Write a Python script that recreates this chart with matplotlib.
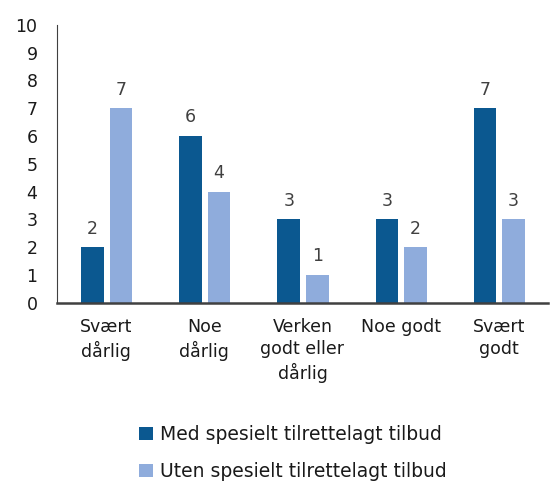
import numpy as np
import matplotlib.pyplot as plt

categories = ['Svært\ndårlig', 'Noe\ndårlig', 'Verken\ngodt eller\ndårlig', 'Noe godt', 'Svært\ngodt']
med = [2, 6, 3, 3, 7]
uten = [7, 4, 1, 2, 3]
series_names = ['Med spesielt tilrettelagt tilbud', 'Uten spesielt tilrettelagt tilbud']

dark = '#0B5890'
light = '#8FACDC'
txt = '#1a1a1a'

plt.rcParams['font.family'] = ['DejaVu Sans']

fig = plt.figure(figsize=(5.53, 4.87), dpi=100)
ax = fig.add_axes([0.103, 0.378, 0.888, 0.571])

x = np.arange(len(categories))
w = 0.23
b1 = ax.bar(x - 0.14, med, w, color=dark, label=series_names[0])
b2 = ax.bar(x + 0.15, uten, w, color=light, label=series_names[1])

for bars in (b1, b2):
    for r in bars:
        ax.text(r.get_x() + r.get_width() / 2, r.get_height() + 0.35, f'{int(r.get_height())}',
                ha='center', va='bottom', fontsize=12.5, color='#404040')

ax.set_xlim(-0.5, len(categories) - 0.5)
ax.set_ylim(0, 10)
ax.set_yticks(range(0, 11))
ax.set_xticks(x)
ax.set_xticklabels(categories, fontsize=12.5, color=txt, linespacing=1.3)
ax.tick_params(axis='y', length=0, labelsize=12.5, labelcolor=txt, pad=14)
ax.tick_params(axis='x', length=0, pad=11)

for s in ['top', 'right']:
    ax.spines[s].set_visible(False)
ax.spines['left'].set_color('#404040')
ax.spines['bottom'].set_color('#404040')
ax.spines['bottom'].set_linewidth(1.8)

fig.legend(handles=[b1, b2], loc='center', bbox_to_anchor=(0.53, 0.07), ncol=1,
           frameon=False, fontsize=13.5, labelspacing=0.95, handlelength=0.7,
           handleheight=0.7, handletextpad=0.4, labelcolor=txt)

fig.savefig('out.png', dpi=100)
